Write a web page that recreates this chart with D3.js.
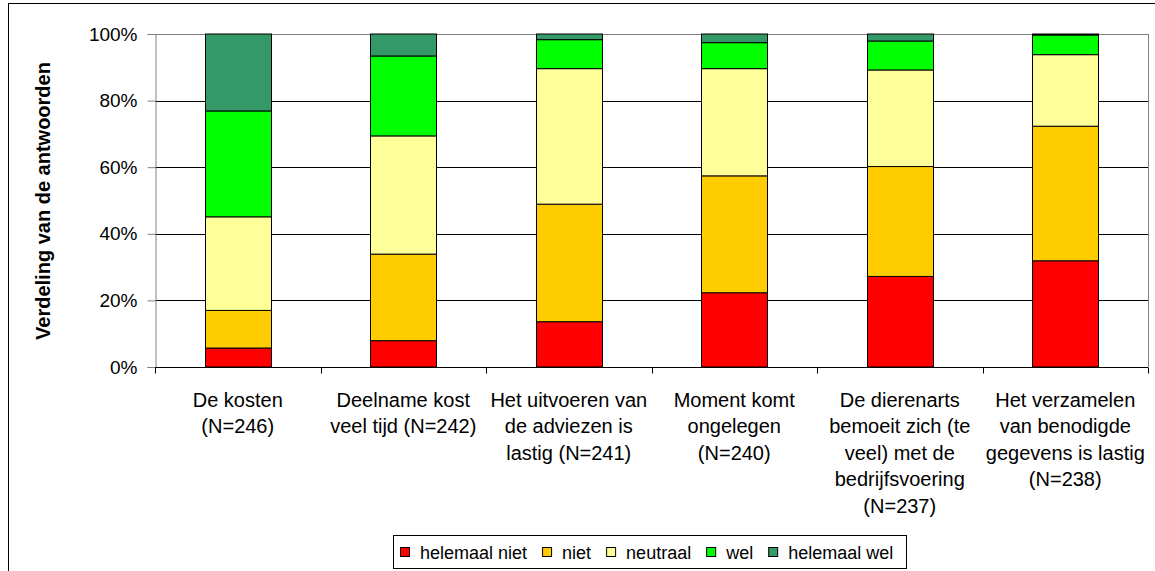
<!DOCTYPE html>
<html lang="nl">
<head>
  <meta charset="UTF-8">
  <title>Verdeling van de antwoorden</title>
  <script src="https://d3js.org/d3.v7.min.js"></script>
  <style>
    body {
      margin: 0;
      background: #fff;
      font-family: "Liberation Sans", Arial, sans-serif;
    }
    text {
      fill: #000;
    }
    .tick-label {
      font-size: 19px;
    }
    .cat-label {
      font-size: 20px;
    }
    .legend-label {
      font-size: 18px;
    }
    .axis-title {
      font-size: 20px;
      font-weight: bold;
    }
  </style>
</head>
<body>
<script>
  // Data
  var categories = [
    ["De kosten", "(N=246)"],
    ["Deelname kost", "veel tijd (N=242)"],
    ["Het uitvoeren van", "de adviezen is", "lastig (N=241)"],
    ["Moment komt", "ongelegen", "(N=240)"],
    ["De dierenarts", "bemoeit zich (te", "veel) met de", "bedrijfsvoering", "(N=237)"],
    ["Het verzamelen", "van benodigde", "gegevens is lastig", "(N=238)"]
  ];
  var seriesNames = ["helemaal niet", "niet", "neutraal", "wel", "helemaal wel"];
  var seriesColors = ["#FF0000", "#FFCC00", "#FFFF99", "#00FF00", "#339966"];
  var helemaalNiet = [5.7, 7.9, 13.6, 22.3, 27.2, 31.9];
  var niet         = [11.3, 26.0, 35.3, 35.1, 33.0, 40.4];
  var neutraal     = [28.1, 35.5, 40.7, 32.2, 29.0, 21.5];
  var wel          = [31.8, 24.0, 8.7, 7.8, 8.7, 5.9];
  var helemaalWel  = [23.1, 6.6, 1.7, 2.6, 2.1, 0.3];
  var yTicks = [0, 20, 40, 60, 80, 100];

  var seriesValues = [helemaalNiet, niet, neutraal, wel, helemaalWel];

  var W = 1155, H = 571;
  var margin = { top: 34, left: 155 },
      width = 993,
      height = 333;

  var svg = d3.select("body")
              .append("svg")
              .attr("width", W)
              .attr("height", H);

  // outer frame (left/top visible)
  svg.append("rect")
     .attr("x", 8.5).attr("y", 3.5)
     .attr("width", W + 20).attr("height", H + 20)
     .attr("fill", "none")
     .attr("stroke", "#000");

  var g = svg.append("g")
             .attr("transform", `translate(${margin.left},${margin.top})`);

  var rows = categories.map(function(c, i) {
    var r = { key: i };
    seriesNames.forEach(function(s, j) { r[s] = seriesValues[j][i]; });
    return r;
  });

  var x = d3.scaleBand()
            .domain(d3.range(categories.length))
            .range([0, width])
            .paddingInner(0.6)
            .paddingOuter(0.3);

  var y = d3.scaleLinear()
            .domain([0, 100])
            .range([height, 0]);

  // grid lines
  g.selectAll(".grid")
   .data(yTicks.filter(function(t) { return t > 0; }))
   .enter()
   .append("line")
   .attr("x1", 0).attr("x2", width)
   .attr("y1", function(d) { return Math.round(y(d)) + 0.5; })
   .attr("y2", function(d) { return Math.round(y(d)) + 0.5; })
   .attr("stroke", function(d) { return d === 100 ? "#808080" : "#000"; });

  // right border of plot
  g.append("line")
   .attr("x1", width + 0.5).attr("x2", width + 0.5)
   .attr("y1", 0).attr("y2", height)
   .attr("stroke", "#808080");

  // stacked bars
  var stack = d3.stack().keys(seriesNames);
  var layers = stack(rows);

  g.selectAll(".layer")
   .data(layers)
   .enter()
   .append("g")
   .attr("fill", function(d, i) { return seriesColors[i]; })
   .selectAll("rect")
   .data(function(d) { return d; })
   .enter()
   .append("rect")
   .attr("x", function(d) { return Math.round(x(d.data.key)) + 0.5; })
   .attr("y", function(d) { return y(d[1]); })
   .attr("width", Math.round(x.bandwidth()))
   .attr("height", function(d) { return y(d[0]) - y(d[1]); })
   .attr("stroke", "#000")
   .attr("stroke-width", 1);

  // Y axis
  var yAxis = g.append("g")
               .attr("transform", "translate(0.5,0)")
               .call(d3.axisLeft(y)
                       .tickValues(yTicks)
                       .tickSize(8)
                       .tickPadding(10)
                       .tickFormat(function(d) { return d + "%"; }));
  yAxis.selectAll("path, line").attr("stroke", "#808080");
  yAxis.selectAll("text")
       .attr("class", "tick-label")
       .style("font-family", "'Liberation Sans', Arial, sans-serif");

  // X axis (ticks between categories)
  var xAxisG = g.append("g")
                .attr("transform", `translate(0,${Math.round(height) + 0.5})`);
  xAxisG.append("line")
        .attr("x1", 0).attr("x2", width)
        .attr("stroke", "#000");
  xAxisG.selectAll(".xtick")
        .data(d3.range(categories.length + 1))
        .enter()
        .append("line")
        .attr("x1", function(d) { return Math.round(d * x.step()) + 0.5; })
        .attr("x2", function(d) { return Math.round(d * x.step()) + 0.5; })
        .attr("y1", 0).attr("y2", 6)
        .attr("stroke", "#000");

  // category labels
  xAxisG.selectAll(".xlabel")
        .data(categories)
        .enter()
        .append("text")
        .attr("class", "cat-label")
        .attr("text-anchor", "middle")
        .attr("transform", function(d, i) {
          return `translate(${x(i) + x.bandwidth() / 2},39)`;
        })
        .selectAll("tspan")
        .data(function(d) { return d; })
        .enter()
        .append("tspan")
        .attr("x", 0)
        .attr("y", function(d, i) { return i * 26.5; })
        .text(function(d) { return d; });

  // Y axis title
  svg.append("text")
     .attr("class", "axis-title")
     .attr("text-anchor", "middle")
     .attr("transform", "translate(50,201) rotate(-90)")
     .text("Verdeling van de antwoorden");

  // Legend
  var legend = svg.append("g");
  legend.append("rect")
        .attr("x", 393.5).attr("y", 535.5)
        .attr("width", 513).attr("height", 33)
        .attr("fill", "#fff")
        .attr("stroke", "#000");

  var lx = 400;
  seriesNames.forEach(function(name, i) {
    legend.append("rect")
          .attr("x", lx + 0.5).attr("y", 547.5)
          .attr("width", 9).attr("height", 9)
          .attr("fill", seriesColors[i])
          .attr("stroke", "#000");
    var t = legend.append("text")
                  .attr("class", "legend-label")
                  .attr("x", lx + 20)
                  .attr("y", 559)
                  .text(name);
    lx = lx + 20 + t.node().getComputedTextLength() + 15;
  });
</script>
</body>
</html>
